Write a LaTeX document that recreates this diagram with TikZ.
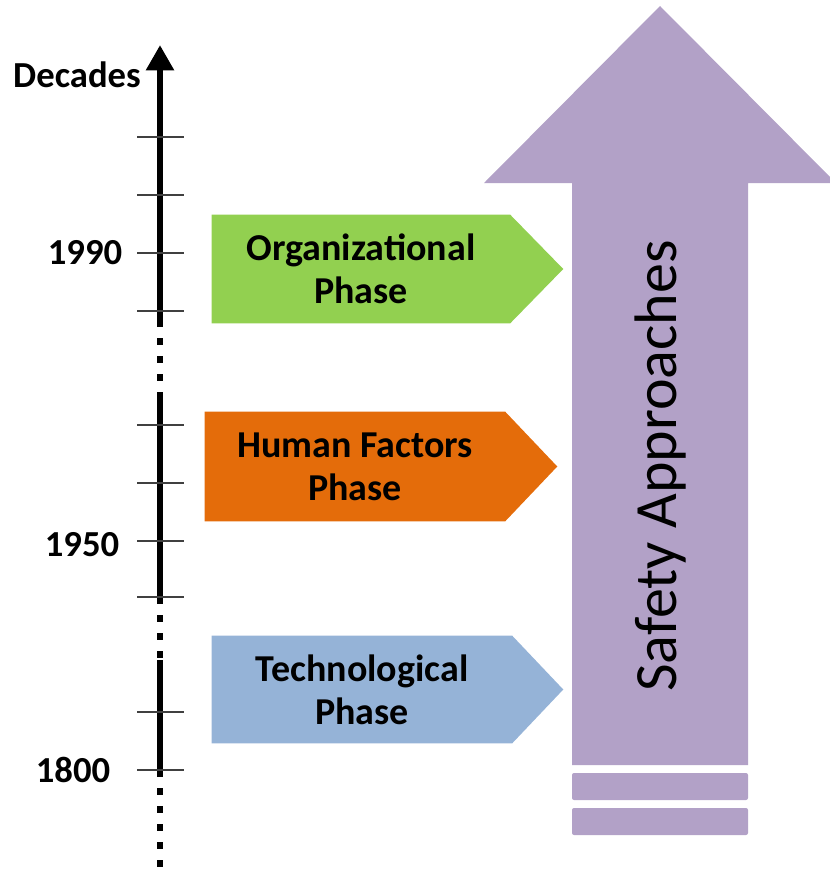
\documentclass[tikz,border=0pt]{standalone}
\usepackage{fontspec}
\setmainfont{Carlito}
\usetikzlibrary{arrows.meta, calc, positioning}

\definecolor{orgGreen}{HTML}{92D050}
\definecolor{humanOrange}{HTML}{E46C0A}
\definecolor{techBlue}{HTML}{95B3D7}
\definecolor{safetyPurple}{HTML}{B2A1C7}

\begin{document}
\begin{tikzpicture}[
      x=0.75pt, y=-0.75pt,
      axis/.style={
        line width=4.8pt,
        line cap=butt,
      },
      axis-gap/.style={
        line width=4.8pt,
        dash pattern=on 5.25pt off 8.25pt,
      },
      tick/.style={
        draw=black!75,
        line width=1.1pt,
      },
      year/.style={
        font=\bfseries\fontsize{27.5}{32}\selectfont,
        inner sep=0pt,
      },
      phase/.style={
        font=\bfseries\fontsize{28.5}{32.5}\selectfont,
        align=center,
        inner sep=0pt,
        minimum width=225pt,
        minimum height=81pt,
      },
      bar/.style={
        fill=safetyPurple,
        rounded corners=1.5pt,
      },
    ]
    \useasboundingbox (0,0) rectangle (829,875);
    \coordinate (ax-top) at (160,45);
    \coordinate (ax-a) at (160,320);
    \coordinate (ax-b) at (160,397);
    \coordinate (ax-c) at (160,597);
    \coordinate (ax-d) at (160,660);
    \coordinate (ax-e) at (160,770);
    \coordinate (ax-end) at (160,875);
    % time axis
    \draw[axis, -{Triangle[width=20pt, length=19pt]}] (ax-a) -- (ax-top);
    \draw[axis-gap] (ax-a) -- (ax-b);
    \draw[axis] (ax-b) -- (ax-c);
    \draw[axis-gap] (ax-c) -- (ax-d);
    \draw[axis] (ax-d) -- (ax-e);
    \draw[axis-gap] (ax-e) -- (ax-end);
    \draw[tick] (137,137) -- (184,137);
    \draw[tick] (137,195) -- (184,195);
    \draw[tick] (137,253) -- (184,253);
    \draw[tick] (137,311) -- (184,311);
    \draw[tick] (137,425) -- (184,425);
    \draw[tick] (137,483) -- (184,483);
    \draw[tick] (137,541) -- (184,541);
    \draw[tick] (137,597) -- (184,597);
    \draw[tick] (137,712) -- (184,712);
    \draw[tick] (137,770) -- (184,770);
    \node[year] (decades) at (77,75) {Decades};
    \node[year] (y1990) at (85,253) {1990};
    \node[year] (y1950) at (82,545) {1950};
    \node[year] (y1800) at (73,770) {1800};
    % phases
    \node[phase, minimum width=223.5pt] (org) at (361,269) {};
    \fill[orgGreen] (org.north west) -- (org.north east) -- ($(org.east)+(53,0)$)
      -- (org.south east) -- (org.south west) -- cycle;
    \node[phase] (org-text) at (org) {Organizational\\Phase};
    \node[phase, minimum height=81.75pt] (human) at (355,466.5) {};
    \fill[humanOrange] (human.north west) -- (human.north east) -- ($(human.east)+(52,0)$)
      -- (human.south east) -- (human.south west) -- cycle;
    \node[phase] (human-text) at (human) {Human Factors\\Phase};
    \node[phase, minimum height=80.25pt] (tech) at (362,689.5) {};
    \fill[techBlue] (tech.north west) -- (tech.north east) -- ($(tech.east)+(51,0)$)
      -- (tech.south east) -- (tech.south west) -- cycle;
    \node[phase] (tech-text) at (tech) {Technological\\Phase};
    % safety arrow
    \fill[safetyPurple] (572,765) -- (572,183) -- (484,183) -- (660,6)
      -- (836,183) -- (748,183) -- (748,765) -- cycle;
    \node[rotate=90, font=\fontsize{45}{54}\selectfont, inner sep=0pt] (safety) at (660,466) {Safety Approaches};
    \path[bar] (572,773) rectangle (748,800);
    \path[bar] (572,808) rectangle (748,835);
  \end{tikzpicture}
\end{document}
